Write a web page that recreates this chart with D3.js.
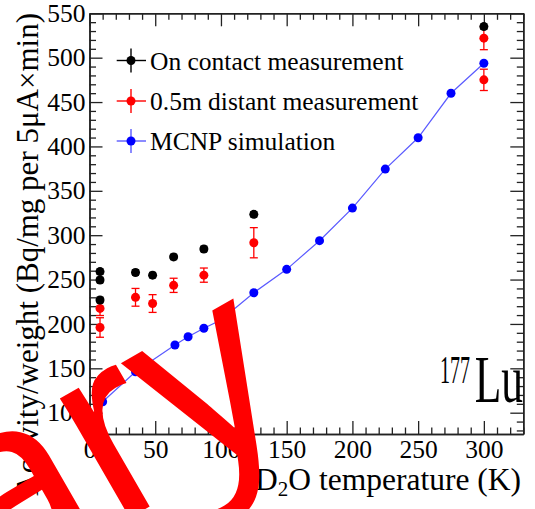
<!DOCTYPE html>
<html><head><meta charset="utf-8">
<script src="https://cdn.jsdelivr.net/npm/d3@7"></script>
<style>
html,body{margin:0;padding:0;background:#fff;}
svg{display:block;}
text{font-family:"Liberation Serif","Times New Roman",serif;}
</style></head>
<body>
<svg id="chart" width="535" height="509"></svg>
<script>
// ---- data ----
const contactTemp = [8, 8, 8, 35, 48, 64, 87, 125, 300];
const contactAct  = [259, 249.5, 227, 258, 255, 275.5, 284.5, 323.5, 535];
const contactErr  = [3, 3, 3, 3, 3, 3, 3, 3, 3];

const distantTemp = [8, 8, 35, 48, 64, 87, 125, 300, 300];
const distantAct  = [217.5, 196, 230, 223, 243.5, 255, 291.5, 522, 475];
const distantErr  = [8, 11, 10, 10, 8, 8, 17, 13, 12];

const mcnpTemp = [10, 35, 65, 75, 87, 100, 125, 150, 175, 200, 225, 250, 275, 300];
const mcnpAct  = [112.4, 146.2, 176.3, 185.6, 195.1, 204.4, 235.2, 261.5, 293.8, 330.5, 374.5, 409.8, 459.9, 493.7];

const legendLabels = ["On contact measurement", "0.5m distant measurement", "MCNP simulation"];
const xMajorTicks = [0, 50, 100, 150, 200, 250, 300];
const yMajorTicks = [100, 150, 200, 250, 300, 350, 400, 450, 500, 550];

// ---- layout ----
const svg = d3.select("#chart");
const L = 89.5, R = 523.3, T = 13.3, B = 434;
const x = d3.scaleLinear().domain([0, 330]).range([L, R]);
const y = d3.scaleLinear().domain([76, 550]).range([B, T]);

const axisColor = "#222";
const major = 13, minor = 6.5;

const xMinor = d3.range(0, 331, 10).filter(v => v % 50 !== 0);
const yMinor = d3.range(80, 551, 10).filter(v => v % 50 !== 0);

function addAxis(axisGen, tr) {
  const g = svg.append("g").attr("transform", tr).call(axisGen);
  g.select(".domain").attr("stroke", axisColor).attr("stroke-width", 1.5);
  g.selectAll(".tick line").attr("stroke", axisColor).attr("stroke-width", 1.3);
  return g;
}
// bottom
const gb = addAxis(d3.axisBottom(x).tickValues(xMajorTicks).tickSizeInner(-major).tickSizeOuter(0).tickPadding(6), `translate(0,${B})`);
gb.selectAll(".tick text").attr("font-size", 25.5).attr("font-family", "Liberation Serif").style("fill", "#000");
addAxis(d3.axisBottom(x).tickValues(xMinor).tickSizeInner(-minor).tickSizeOuter(0).tickFormat(""), `translate(0,${B})`);
// top
addAxis(d3.axisTop(x).tickValues(xMajorTicks).tickSizeInner(-major).tickSizeOuter(0).tickFormat(""), `translate(0,${T})`);
addAxis(d3.axisTop(x).tickValues(xMinor).tickSizeInner(-minor).tickSizeOuter(0).tickFormat(""), `translate(0,${T})`);
// left
const gl = addAxis(d3.axisLeft(y).tickValues(yMajorTicks).tickSizeInner(-major).tickSizeOuter(0).tickPadding(4), `translate(${L},0)`);
gl.selectAll(".tick text").attr("font-size", 25.5).attr("font-family", "Liberation Serif").style("fill", "#000").attr("x", -4);
addAxis(d3.axisLeft(y).tickValues(yMinor).tickSizeInner(-minor).tickSizeOuter(0).tickFormat(""), `translate(${L},0)`);
// right
addAxis(d3.axisRight(y).tickValues(yMajorTicks).tickSizeInner(-major).tickSizeOuter(0).tickFormat(""), `translate(${R},0)`);
addAxis(d3.axisRight(y).tickValues(yMinor).tickSizeInner(-minor).tickSizeOuter(0).tickFormat(""), `translate(${R},0)`);

// ---- MCNP line ----
const lineColor = "#5a5aff";
svg.append("path")
  .datum(mcnpTemp.map((t, i) => [t, mcnpAct[i]]))
  .attr("fill", "none").attr("stroke", lineColor).attr("stroke-width", 1.2)
  .attr("d", d3.line().x(d => x(d[0])).y(d => y(d[1])));

const R_MARK = 4.5;
function drawSeries(temps, vals, errs, color, cap) {
  const g = svg.append("g");
  temps.forEach((t, i) => {
    const cx = x(t), cy = y(vals[i]);
    if (errs) {
      const y1 = y(vals[i] + errs[i]), y2 = y(vals[i] - errs[i]);
      g.append("line").attr("x1", cx).attr("x2", cx).attr("y1", y1).attr("y2", y2)
        .attr("stroke", color).attr("stroke-width", 1.3);
      if (cap) {
        [y1, y2].forEach(yy => g.append("line").attr("x1", cx - cap).attr("x2", cx + cap)
          .attr("y1", yy).attr("y2", yy).attr("stroke", color).attr("stroke-width", 1.3));
      }
    }
    g.append("circle").attr("cx", cx).attr("cy", cy).attr("r", R_MARK).attr("fill", color);
  });
}
drawSeries(mcnpTemp, mcnpAct, null, "#0000ff", 0);
drawSeries(distantTemp, distantAct, distantErr, "#ff0000", 4);
drawSeries(contactTemp, contactAct, contactErr, "#000000", 3.5);

// ---- legend ----
const legendColors = ["#000000", "#ff0000", "#0000ff"];
const legendLine = ["#000000", "#ff0000", lineColor];
const legendY = [60.5, 101, 141];
legendLabels.forEach((lab, i) => {
  const ly = legendY[i];
  svg.append("line").attr("x1", 116.7).attr("x2", 146).attr("y1", ly).attr("y2", ly)
    .attr("stroke", legendLine[i]).attr("stroke-width", 1.4);
  svg.append("line").attr("x1", 131).attr("x2", 131).attr("y1", ly - 12).attr("y2", ly + 12)
    .attr("stroke", legendLine[i]).attr("stroke-width", 1.4);
  svg.append("circle").attr("cx", 131).attr("cy", ly).attr("r", R_MARK).attr("fill", legendColors[i]);
  svg.append("text").attr("x", 150).attr("y", ly + 9).attr("font-size", 25.5).style("fill", "#000").text(lab);
});

// ---- axis titles ----
const xt = svg.append("text").attr("x", 521).attr("y", 490).attr("text-anchor", "end")
  .attr("font-size", 31.5).style("fill", "#000");
xt.append("tspan").text("D");
xt.append("tspan").attr("font-size", 21).attr("dy", 6).text("2");
xt.append("tspan").attr("dy", -6).text("O temperature (K)");

svg.append("text")
  .attr("transform", "translate(38,13) rotate(-90)")
  .attr("text-anchor", "end").attr("font-size", 31).style("fill", "#000")
  .text("Activity/weight (Bq/mg per 5μA×min)");

// ---- isotope label ----
svg.append("text").attr("transform", "translate(470,383) scale(0.5,1)")
  .attr("text-anchor", "end").attr("font-size", 40).style("fill", "#000").text("177");
svg.append("text").attr("transform", "translate(523,402) scale(0.64,1)")
  .attr("text-anchor", "end").attr("font-size", 68).style("fill", "#000").text("Lu");

// ---- watermark ----
svg.append("text")
  .attr("transform", "translate(303,418) rotate(-30)")
  .attr("text-anchor", "end")
  .style("font-family", "'Liberation Sans', Arial, sans-serif")
  .attr("font-size", 262).style("fill", "#ff0000")
  .text("ary");
</script>
</body></html>
